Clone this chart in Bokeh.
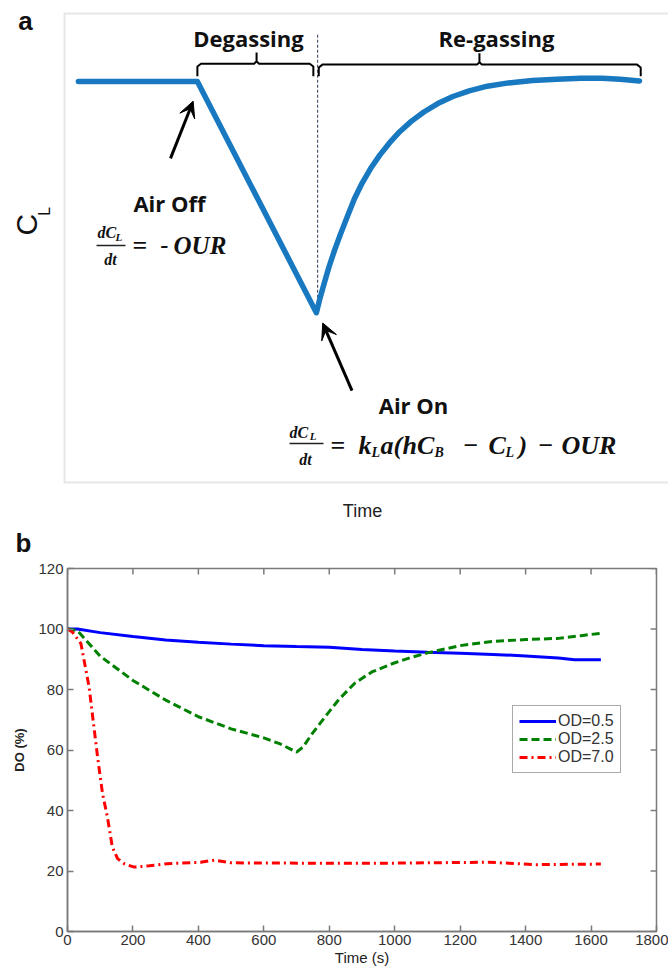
import numpy as np
from bokeh.plotting import figure
from bokeh.models import (Range1d, Label, Arrow, VeeHead, BoxAnnotation,
                          FixedTicker, Legend)
from bokeh.layouts import column, row
from bokeh.embed import file_html
from bokeh.resources import INLINE

# ---------------- data: panel a (schematic, arbitrary units 0-100) -------------
a_time = [2.3, 22.0, 41.7, 42.3, 43.0, 43.8, 44.7, 45.7, 46.8, 48.0, 49.3,
          50.7, 52.2, 53.8, 55.5, 57.4, 59.5, 61.8, 64.3, 67.0, 70.0, 73.5,
          77.5, 81.5, 85.5, 89.0, 92.0, 95.2]
a_cl = [85.5, 85.5, 36.2, 39.3, 42.5, 46.0, 49.5, 53.0, 56.6, 60.5, 63.9,
        67.0, 69.8, 72.4, 74.8, 77.0, 79.0, 80.8, 82.3, 83.5, 84.5, 85.2,
        85.7, 86.0, 86.2, 86.2, 86.0, 85.6]

# ---------------- data: panel b -------------------------------------------------
blue_t = [0, 30, 100, 200, 300, 400, 500, 600, 700, 800, 900, 1000, 1100,
          1200, 1300, 1400, 1500, 1550, 1630]
blue_do = [100, 100, 98.8, 97.5, 96.4, 95.6, 95.0, 94.5, 94.2, 94.0, 93.2,
           92.7, 92.3, 92.0, 91.6, 91.1, 90.4, 89.8, 89.8]

green_t = [0, 30, 100, 200, 300, 400, 500, 600, 650, 700, 720, 745, 786, 830,
           877, 930, 994, 1050, 1100, 1200, 1300, 1400, 1500, 1570, 1630]
green_do = [100, 99.5, 91.0, 83.0, 76.5, 71.0, 67.0, 64.0, 62.0, 59.3, 61.0,
            65.0, 70.8, 76.8, 82.0, 85.8, 88.6, 90.6, 92.1, 94.5, 95.9, 96.5,
            96.9, 97.8, 98.6]

red_t = [0, 15, 41, 66, 92, 107, 122, 137, 153, 175, 204, 250, 305, 407,
         450, 500, 708, 1000, 1287, 1430, 1630]
red_do = [100, 99, 95.2, 80.8, 57.6, 45.6, 37.8, 27.9, 24.1, 22.3, 21.3,
          21.7, 22.4, 22.9, 23.6, 22.7, 22.6, 22.6, 22.9, 22.1, 22.3]

series_labels = ["OD=0.5", "OD=2.5", "OD=7.0"]
x_ticks = [0, 200, 400, 600, 800, 1000, 1200, 1400, 1600, 1800]
y_ticks = [0, 20, 40, 60, 80, 100, 120]

# ================= panel a =====================================================
pa = figure(width=668, height=560, x_range=Range1d(-10.596, 100),
            y_range=Range1d(-16.63, 102.77),
            x_axis_location=None, y_axis_location=None,
            min_border_left=0, min_border_right=0, min_border_top=0,
            min_border_bottom=0, output_backend="svg", toolbar_location=None,
            outline_line_color=None, background_fill_color="white")
pa.xgrid.visible = False
pa.ygrid.visible = False

pa.add_layout(BoxAnnotation(left=0, right=101, bottom=0, top=100, fill_color=None,
                            line_color="#ababab", line_width=2))

pa.line([41.9, 41.9], [36.2, 95.9], line_color="#4d5670", line_width=1.2, line_dash="3 2")
pa.line(a_time, a_cl, line_color="#1878c0", line_width=5.5, line_join="round",
        line_cap="round")

def brace(x0, x1, xc, yh, yb, yt):
    xs = [x0, x0, x0 + 0.6, xc - 0.4, xc, xc, xc, xc + 0.4, x1 - 0.6, x1, x1]
    ys = [yb, yh - 0.6, yh, yh, yh + 0.5, yt, yh + 0.5, yh, yh, yh - 0.6, yb]
    pa.line(xs, ys, line_color="black", line_width=2)

brace(22.0, 41.2, 31.8, 89.3, 86.6, 91.7)
brace(42.1, 95.4, 68.7, 89.1, 86.6, 91.5)

pa.add_layout(Arrow(end=VeeHead(size=16, fill_color="black", line_color="black"),
                    x_start=17.55, y_start=69.1, x_end=21.3, y_end=81.3,
                    line_width=3, line_color="black"))
pa.add_layout(Arrow(end=VeeHead(size=16, fill_color="black", line_color="black"),
                    x_start=47.6, y_start=19.6, x_end=42.75, y_end=34.0,
                    line_width=3, line_color="black"))

def lab(p, x, y, text, size, font="Open Sans", style="bold", align="center",
        baseline="middle", color="#111111", angle=0):
    p.add_layout(Label(x=x, y=y, text=text, text_font=font, text_font_style=style,
                       text_font_size=f"{size}px", text_align=align,
                       text_baseline=baseline, text_color=color,
                       angle=angle, angle_units="deg"))

lab(pa, 30.46, 94.88, "Degassing", 22)
lab(pa, 71.52, 94.88, "Re-gassing", 22)
lab(pa, 17.38, 59.49, "Air Off", 22)
lab(pa, 57.78, 16.42, "Air On", 22)
lab(pa, 49.34, -5.97, "Time", 18, font="Liberation Sans", style="normal", color="#222222")
lab(pa, -6.46, 98.5, "a", 26, font="Liberation Sans", style="bold", color="#111111")
lab(pa, -6.21, 55.0, "C", 30, font="Liberation Sans", style="normal", angle=90)
lab(pa, -3.39, 57.8, "L", 16, font="Liberation Sans", style="normal", angle=90)
lab(pa, -6.79, -13.0, "b", 26, font="Liberation Sans", style="bold", color="#111111")

SER = "Liberation Serif"
BI = "bold italic"
# Air Off equation
lab(pa, 5.46, 53.30, "dC", 16, font=SER, style=BI, align="left")
lab(pa, 8.44, 52.45, "L", 11, font=SER, style=BI, align="left")
pa.line([5.30, 10.10], [50.53, 50.53], line_color="#222222", line_width=1.5)
lab(pa, 7.62, 47.55, "dt", 16, font=SER, style=BI)
lab(pa, 11.26, 50.53, "=", 26, font=SER, style="bold", align="left")
lab(pa, 15.9, 50.53, "-", 24, font=SER, style=BI, align="left")
lab(pa, 18.05, 50.53, "OUR", 25, font=SER, style=BI, align="left")

# Air On equation
ym, ys_ = 7.89, 6.40
lab(pa, 37.25, 10.66, "dC", 16, font=SER, style=BI, align="left")
lab(pa, 40.60, 9.81, "L", 11, font=SER, style=BI, align="left")
pa.line([37.25, 42.88], [8.32, 8.32], line_color="#222222", line_width=1.5)
lab(pa, 39.90, 4.90, "dt", 16, font=SER, style=BI)
lab(pa, 44.04, ym, "=", 26, font=SER, style="bold", align="left")
lab(pa, 48.68, ym, "k", 26, font=SER, style=BI, align="left")
lab(pa, 50.83, ys_, "L", 14, font=SER, style=BI, align="left")
lab(pa, 52.32, ym, "a(", 26, font=SER, style=BI, align="left")
lab(pa, 55.96, ym, "hC", 26, font=SER, style=BI, align="left")
lab(pa, 61.26, ys_, "B", 14, font=SER, style=BI, align="left")
lab(pa, 66.06, ym, "\u2212", 26, font=SER, style="bold", align="left")
lab(pa, 70.20, ym, "C", 26, font=SER, style=BI, align="left")
lab(pa, 73.01, ys_, "L", 14, font=SER, style=BI, align="left")
lab(pa, 75.17, ym, ")", 26, font=SER, style=BI, align="left")
lab(pa, 78.48, ym, "\u2212", 26, font=SER, style="bold", align="left")
lab(pa, 82.28, ym, "OUR", 26, font=SER, style=BI, align="left")

# ================= panel b =====================================================
pb = figure(width=668, height=409, x_range=Range1d(0, 1800), y_range=Range1d(0, 120),
            min_border_left=67, min_border_right=12, min_border_top=8,
            min_border_bottom=38, output_backend="svg", toolbar_location=None,
            background_fill_color="white", outline_line_color="#7a7a7a",
            outline_line_width=1.5)
pb.xgrid.visible = False
pb.ygrid.visible = False

tick_col = "#333333"
axcol = "#7a7a7a"
for ax in (pb.xaxis[0], pb.yaxis[0]):
    ax.major_tick_in = 6
    ax.major_tick_out = 0
    ax.minor_tick_line_color = None
    ax.axis_line_color = axcol
    ax.axis_line_width = 1.5
    ax.major_tick_line_color = axcol
    ax.major_tick_line_width = 1.5
    ax.major_label_text_font = "Liberation Sans"
    ax.major_label_text_font_size = "15px"
    ax.major_label_text_color = tick_col
pb.xaxis[0].ticker = FixedTicker(ticks=x_ticks)
pb.yaxis[0].ticker = FixedTicker(ticks=y_ticks)
pb.xaxis[0].major_label_standoff = 3
pb.yaxis[0].major_label_standoff = 4
pb.xaxis[0].axis_label = "Time (s)"
pb.xaxis[0].axis_label_standoff = 1
pb.xaxis[0].axis_label_text_font = "Liberation Sans"
pb.xaxis[0].axis_label_text_font_style = "normal"
pb.xaxis[0].axis_label_text_font_size = "15px"
pb.xaxis[0].axis_label_text_color = "#222222"
pb.yaxis[0].axis_label = "DO (%)"
pb.yaxis[0].axis_label_standoff = 8
pb.yaxis[0].axis_label_text_font = "Liberation Sans"
pb.yaxis[0].axis_label_text_font_style = "bold"
pb.yaxis[0].axis_label_text_font_size = "13px"
pb.yaxis[0].axis_label_text_color = "#222222"

pb.segment(x0=x_ticks, y0=[120] * len(x_ticks), x1=x_ticks, y1=[118] * len(x_ticks),
           line_color=axcol, line_width=1.5)
pb.segment(x0=[1800] * len(y_ticks), y0=y_ticks, x1=[1782] * len(y_ticks), y1=y_ticks,
           line_color=axcol, line_width=1.5)

rb = pb.line(blue_t, blue_do, line_color="#0000ff", line_width=3)
rg = pb.line(green_t, green_do, line_color="#008000", line_width=3, line_dash="8 4")
rr = pb.line(red_t, red_do, line_color="#ff0000", line_width=3, line_dash="8 4 2 4")

legend = Legend(items=[(series_labels[0], [rb]), (series_labels[1], [rg]),
                       (series_labels[2], [rr])],
                location=(445, 158), padding=6, spacing=0, margin=0,
                label_height=18, glyph_height=18, glyph_width=37, label_standoff=2,
                label_text_font="Liberation Sans", label_text_font_size="16px",
                label_text_color="#333333", border_line_color="#555555",
                border_line_width=1.5, background_fill_color="white")
pb.add_layout(legend)

layout = column(row(pa), row(pb), spacing=0)
open("out.html", "w").write(file_html(layout, INLINE))
